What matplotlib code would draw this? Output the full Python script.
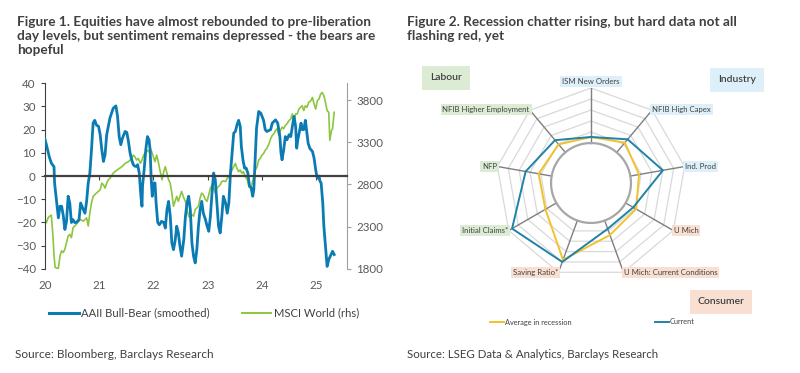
import numpy as np
import matplotlib.pyplot as plt

plt.rcParams['font.family'] = ['Lato', 'DejaVu Sans']

# ---- Figure 1 data: years since 2020 ----
blue_t = [0.00, 0.03, 0.08, 0.12, 0.17, 0.18, 0.22, 0.25, 0.28, 0.31,
          0.34, 0.37, 0.40, 0.43, 0.46, 0.49, 0.52, 0.55, 0.58, 0.63,
          0.66, 0.71, 0.74, 0.77, 0.80, 0.83, 0.86, 0.89, 0.92, 0.95,
          0.99, 1.02, 1.05, 1.08, 1.11, 1.14, 1.17, 1.20, 1.26, 1.31,
          1.34, 1.37, 1.40, 1.43, 1.48, 1.51, 1.54, 1.57, 1.60, 1.63,
          1.66, 1.69, 1.71, 1.74, 1.77, 1.79, 1.80, 1.83, 1.86, 1.89,
          1.92, 1.94, 1.96, 1.98, 2.00, 2.03, 2.05, 2.08, 2.11, 2.15,
          2.19, 2.22, 2.25, 2.28, 2.31, 2.34, 2.37, 2.40, 2.43, 2.46,
          2.49, 2.52, 2.56, 2.59, 2.62, 2.65, 2.68, 2.71, 2.74, 2.77,
          2.80, 2.83, 2.86, 2.89, 2.92, 2.96, 2.99, 3.02, 3.05, 3.08,
          3.11, 3.14, 3.17, 3.20, 3.23, 3.26, 3.29, 3.33, 3.36, 3.39,
          3.42, 3.45, 3.48, 3.51, 3.54, 3.57, 3.60, 3.62, 3.65, 3.68,
          3.71, 3.74, 3.77, 3.80, 3.83, 3.85, 3.88, 3.90, 3.94, 3.98,
          4.03, 4.06, 4.09, 4.16, 4.19, 4.25, 4.29, 4.33, 4.35, 4.37,
          4.40, 4.43, 4.46, 4.50, 4.53, 4.56, 4.59, 4.62, 4.64, 4.66,
          4.69, 4.72, 4.74, 4.77, 4.80, 4.82, 4.85, 4.88, 4.93, 4.96,
          4.99, 5.01, 5.03, 5.05, 5.07, 5.09, 5.12, 5.14, 5.17, 5.20,
          5.23, 5.26, 5.30, 5.33]
aaii = [16, 13.5, 8.5, 5.6, 4, -3, -11.6, -18, -13, -13,
        -17, -23, -19.5, -8.7, -11.6, -20, -18.8, -20, -20, -18.8,
        -11.6, -14.5, -16, -10.9, -3, 1.3, 11.3, 22.8, 24, 22,
        21.4, 17.8, 11.3, 6.3, 9.2, 17.8, 21.4, 25, 29.2, 30.2,
        25.7, 17, 13.5, 16.3, 19.2, 18.8, 15, 10, 7, 4.9,
        4.2, 4.2, 4.9, 1.3, -8.7, -13, -4.4, 2.8, 11.3, 17,
        15.6, 11.3, -1.6, -8.7, -3, -3, -11.6, -20, -21, -19.5,
        -20, -22.4, -14.5, -10.9, -17, -28.8, -31.7, -28, -21.6, -24.5,
        -30.3, -34.5, -27.4, -17.4, -11.6, -8.7, -14.5, -28.8, -34.5, -37.4,
        -31.7, -21.6, -14.5, -10.9, -16, -18.8, -21.6, -23.8, -17.4, -7.3,
        1.3, -1.6, -11.6, -21.6, -24.5, -17.4, -8.7, -11.6, -16, -11.6,
        1.3, 10, 18.5, 19.2, 22, 24, 21.4, 12.8, 7, 3.4,
        3.4, 1.3, -4.4, -5, -8.7, -5.8, 10, 20.6, 27.8, 27,
        24, 20, 19.2, 20, 22.8, 24.2, 22.8, 17, 10, 7,
        11.3, 17, 15.6, 17.8, 17, 21.4, 25.7, 21.4, 12, 15.6,
        19.2, 22.8, 20, 20, 24, 20, 14.2, 12, 10.6, 7.7,
        2.7, -0.1, -0.9, 0, -2.3, -3, -11.6, -21.6, -30.3, -38.9,
        -36, -34.5, -32.4, -33.8]

green_t = [0.00, 0.03, 0.06, 0.09, 0.12, 0.15, 0.17, 0.19, 0.22, 0.25,
           0.28, 0.31, 0.34, 0.37, 0.40, 0.43, 0.46, 0.49, 0.52, 0.55,
           0.58, 0.65, 0.71, 0.77, 0.80, 0.83, 0.86, 0.89, 0.95, 1.02,
           1.05, 1.08, 1.11, 1.14, 1.17, 1.20, 1.26, 1.29, 1.35, 1.42,
           1.48, 1.54, 1.60, 1.63, 1.66, 1.69, 1.72, 1.76, 1.79, 1.82,
           1.88, 1.91, 1.94, 1.97, 2.00, 2.03, 2.06, 2.09, 2.12, 2.16,
           2.19, 2.22, 2.25, 2.28, 2.31, 2.34, 2.37, 2.40, 2.43, 2.46,
           2.49, 2.52, 2.56, 2.59, 2.62, 2.65, 2.68, 2.71, 2.74, 2.77,
           2.80, 2.83, 2.86, 2.89, 2.92, 2.96, 2.99, 3.02, 3.05, 3.08,
           3.11, 3.14, 3.17, 3.20, 3.23, 3.26, 3.29, 3.33, 3.36, 3.39,
           3.42, 3.45, 3.48, 3.51, 3.54, 3.57, 3.60, 3.63, 3.66, 3.69,
           3.73, 3.76, 3.79, 3.82, 3.85, 3.88, 3.91, 3.94, 3.97, 4.00,
           4.03, 4.06, 4.09, 4.13, 4.16, 4.19, 4.22, 4.25, 4.28, 4.31,
           4.34, 4.37, 4.40, 4.43, 4.46, 4.50, 4.53, 4.56, 4.58, 4.60,
           4.62, 4.65, 4.68, 4.71, 4.74, 4.77, 4.80, 4.83, 4.86, 4.90,
           4.93, 4.96, 4.99, 5.02, 5.05, 5.08, 5.11, 5.14, 5.17, 5.20,
           5.23, 5.25, 5.28, 5.30, 5.33]
msci = [2386, 2347, 2405, 2425, 2437, 2190, 1956, 1820, 1808, 1808,
        1956, 2015, 1995, 2034, 2112, 2190, 2210, 2171, 2288, 2308,
        2327, 2386, 2366, 2405, 2308, 2464, 2581, 2659, 2698, 2737,
        2816, 2796, 2757, 2816, 2855, 2874, 2933, 2952, 2980, 3011,
        3050, 3070, 3109, 3148, 3128, 3089, 3109, 3050, 3089, 3148,
        3206, 3187, 3226, 3187, 3128, 3070, 3148, 3070, 2972, 2855,
        2952, 3011, 2933, 2855, 2816, 2698, 2542, 2601, 2659, 2601,
        2659, 2718, 2640, 2601, 2503, 2425, 2405, 2444, 2425, 2503,
        2523, 2542, 2640, 2698, 2679, 2620, 2601, 2679, 2757, 2796,
        2757, 2698, 2757, 2776, 2796, 2835, 2843, 2835, 2874, 2894,
        2933, 2972, 3011, 3050, 2991, 2952, 2972, 2933, 2952, 2894,
        2855, 2776, 2757, 2816, 2894, 2972, 3011, 3089, 3109, 3148,
        3167, 3206, 3226, 3284, 3343, 3382, 3401, 3440, 3460, 3382,
        3440, 3480, 3460, 3499, 3519, 3558, 3577, 3636, 3519, 3577,
        3636, 3636, 3694, 3714, 3733, 3675, 3733, 3714, 3772, 3792,
        3831, 3753, 3694, 3792, 3812, 3870, 3890, 3851, 3772, 3675,
        3655, 3323, 3440, 3460, 3655]

year_labels = ['20', '21', '22', '23', '24', '25']

# ---- Figure 2 data ----
radar_labels = ['ISM New Orders', 'NFIB High Capex', 'Ind. Prod', 'U Mich',
                'U Mich: Current Conditions', 'Saving Ratio*', 'Initial Claims*',
                'NFP', 'NFIB Higher Employment']
radar_group = ['Industry', 'Industry', 'Industry', 'Consumer', 'Consumer',
               'Consumer', 'Labour', 'Labour', 'Labour']
avg_recession = [0.55, 1.15, 0.8, 1.1, 1.4, 3.8, 1.15, 1.2, 0.95]
current = [0.55, 1.55, 3.0, 0.8, 0.8, 4.0, 4.65, 2.4, 1.45]

BLUE = '#0b7bb3'
GREEN = '#8cc63f'
YELLOW = '#f2c22c'
CBLUE = '#1f82a8'
TXT = '#404040'
group_col = {'Industry': '#ddf0fa', 'Labour': '#dcebd3', 'Consumer': '#f9dfd2'}

fig = plt.figure(figsize=(8, 3.73), dpi=100)

# ---------------- left chart ----------------
ax = fig.add_axes([0.056, 0.279, 0.378, 0.498])
ax.plot(blue_t, aaii, color=BLUE, lw=2.0, zorder=3)
ax.set_xlim(0, 5.57)
ax.set_ylim(-40, 40)
ax.set_yticks(range(-40, 41, 10))
ax.set_xticks(range(6))
ax.set_xticklabels(year_labels)
for s in ['right', 'bottom']:
    ax.spines[s].set_visible(False)
ax.spines['left'].set_color('#404040')
ax.spines['top'].set_position(('data', 0))
ax.spines['top'].set_color('#404040')
ax.spines['top'].set_linewidth(1.6)
ax.spines['top'].set_zorder(4)
ax.tick_params(axis='x', top=True, bottom=False, labeltop=False, labelbottom=True,
               direction='in', length=3, color='#404040', labelsize=8.3,
               labelcolor='#595959', pad=8)
ax.tick_params(axis='y', direction='out', length=3, color='#404040', labelsize=8.3,
               labelcolor='#595959')

ax2 = ax.twinx()
ax2.plot(green_t, msci, color=GREEN, lw=1.2, zorder=2)
ax2.set_ylim(1800, 4000)
ax2.set_yticks(range(1800, 4000, 500))
for s in ['left', 'top', 'bottom']:
    ax2.spines[s].set_visible(False)
ax2.spines['right'].set_color('#a0a0a0')
ax2.tick_params(axis='y', direction='out', length=3, color='#a0a0a0', labelsize=8.3,
                labelcolor='#595959')
ax.set_zorder(ax2.get_zorder() + 1)
ax.patch.set_visible(False)

h1, = ax.plot([], [], color=BLUE, lw=2.2)
h2, = ax.plot([], [], color=GREEN, lw=1.4)
fig.legend([h1, h2], ['AAII Bull-Bear (smoothed)', 'MSCI World (rhs)'],
           loc='center', bbox_to_anchor=(0.255, 1 - 313 / 373), ncol=2, frameon=False,
           fontsize=8.1, handlelength=2.6, handletextpad=0.2, columnspacing=2.9,
           labelcolor=TXT)

fig.text(0.021, 1 - 16 / 373, 'Figure 1. Equities have almost rebounded to pre-liberation\n'
         'day levels, but sentiment remains depressed - the bears are\nhopeful',
         ha='left', va='top', fontsize=9.8, fontweight='bold', color=TXT, linespacing=1.22)
fig.text(0.019, 1 - 355 / 373, 'Source: Bloomberg, Barclays Research',
         ha='left', va='center', fontsize=8.5, color=TXT)

# ---------------- right chart (radar) ----------------
n = len(radar_labels)
ang = np.arange(n) * 2 * np.pi / n
ang_c = np.append(ang, ang[0])
rmax = 5
rmin = -3.63

axr = fig.add_axes([(591 - 95) / 800, 1 - (183 + 95) / 373, 190 / 800, 190 / 373],
                   projection='polar')
axr.set_theta_zero_location('N')
axr.set_theta_direction(-1)
axr.set_ylim(rmin, rmax)
axr.axis('off')

for k in range(1, 6):
    axr.plot(ang_c, [k] * (n + 1), color='#d9d9d9', lw=0.9, zorder=1)
for a in ang:
    axr.plot([a, a], [0, rmax], color='#7f7f7f', lw=1.0, zorder=2)
circ = np.linspace(0, 2 * np.pi, 200)
axr.plot(circ, np.zeros_like(circ), color='#a6a6a6', lw=1.6, zorder=2)

axr.plot(ang_c, np.append(avg_recession, avg_recession[0]), color=YELLOW, lw=1.4, zorder=3)
axr.plot(ang_c, np.append(current, current[0]), color=CBLUE, lw=1.4, zorder=4)

for a, lab, g in zip(ang, radar_labels, radar_group):
    s = np.sin(a)
    if abs(s) < 1e-6:
        ha, va, off = 'center', 'bottom', 0.25
    elif s > 0:
        ha, va, off = 'left', 'center', 0.05
    else:
        ha, va, off = 'right', 'center', 0.05
    axr.text(a, rmax + off, lab, ha=ha, va=va, fontsize=5.6, color=TXT,
             bbox=dict(boxstyle='square,pad=0.25', fc=group_col[g], ec='none'),
             clip_on=False, zorder=5)

for name, (x, y) in {'Labour': (446, 78), 'Industry': (737, 80),
                     'Consumer': (721, 302)}.items():
    fig.text(x / 800, 1 - y / 373, name, ha='center', va='center', fontsize=7.5,
             color=TXT, fontweight='semibold',
             bbox=dict(boxstyle='square,pad=0.75', fc=group_col[name], ec='none'))

y1, = axr.plot([], [], color=YELLOW, lw=1.4)
c1, = axr.plot([], [], color=CBLUE, lw=1.4)
fig.legend([y1], ['Average in recession'], loc='center left',
           bbox_to_anchor=(483 / 800, 1 - 322 / 373), frameon=False, fontsize=5.3,
           handlelength=2.0, handletextpad=0.1, labelcolor=TXT)
fig.legend([c1], ['Current'], loc='center left',
           bbox_to_anchor=(648 / 800, 1 - 322 / 373), frameon=False, fontsize=5.3,
           handlelength=2.0, handletextpad=0.1, labelcolor=TXT)

fig.text(0.509, 1 - 16 / 373, 'Figure 2. Recession chatter rising, but hard data not all\n'
         'flashing red, yet', ha='left', va='top', fontsize=9.8, fontweight='bold',
         color=TXT, linespacing=1.22)
fig.text(0.509, 1 - 355 / 373, 'Source: LSEG Data & Analytics, Barclays Research',
         ha='left', va='center', fontsize=8.3, color=TXT)

fig.savefig('out.png', dpi=100, facecolor='white')
